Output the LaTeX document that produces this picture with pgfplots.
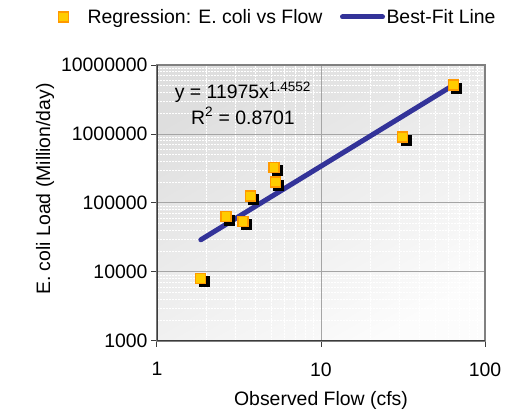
\documentclass[border=0pt]{standalone}
\usepackage{fontspec}
\setmainfont{Liberation Sans}
\usepackage{pgfplots}
\pgfplotsset{compat=1.18}
\definecolor{fitblue}{RGB}{51,51,153}
\definecolor{markfill}{RGB}{255,204,0}
\definecolor{markedge}{RGB}{255,153,0}
\definecolor{majgrid}{RGB}{165,165,165}
\definecolor{bgdark}{RGB}{222,222,222}
\definecolor{bglight}{RGB}{252,252,252}
\definecolor{frame}{RGB}{128,128,128}
\definecolor{darkframe}{RGB}{60,60,60}

\begin{document}
\begin{tikzpicture}
  % page extent, in pixels of the reference (1px = 1bp)
  \path (-157bp,-72bp) rectangle (362bp,341bp);
  \begin{loglogaxis}[
      at={(0,0)}, anchor=south west,
      scale only axis,
      width=328bp, height=276bp,
      xmin=1, xmax=100,
      ymin=1000, ymax=10000000,
      font=\fontsize{19.5}{23}\selectfont,
      /pgf/number format/assume math mode=true,
      xtick={1,10,100}, xticklabels={1,10,100},
      ytick={1000,10000,100000,1000000,10000000},
      yticklabels={1000,10000,100000,1000000,10000000},
      xticklabel style={yshift=-12bp},
      xtick pos=left, ytick pos=left,
      tick align=outside,
      major tick length=6bp, minor tick length=0pt,
      major tick style={draw=darkframe, line width=1bp},
      grid=both,
      major grid style={draw=majgrid, line width=1bp},
      minor grid style={draw=white, line width=1bp, dash pattern=on 2bp off 1bp},
      axis line style={frame, line width=1.5bp},
      axis background/.style={shade, top color=bgdark, bottom color=bglight, shading angle=30},
      xlabel={Observed Flow (cfs)},
      ylabel={E. coli Load (Million/day)},
      every axis x label/.style={at={(axis description cs:0.5,-0.214)}, anchor=center},
      ylabel style={xshift=14bp},
      legend columns=2,
      legend style={at={(axis description cs:0.366,1.174)}, anchor=center,
        draw=none, fill=none, column sep=0pt,
        nodes={inner sep=0pt, anchor=west}},
    ]
    % black shadows behind the markers
    \addplot[only marks, mark=square*, mark size=5bp, forget plot,
      mark options={fill=black, draw=black, xshift=3bp, yshift=-3bp}]
      coordinates {
        (1.85,8100) (2.63,63300) (3.34,54300) (3.71,126000)
        (5.17,329000) (5.26,201000) (31.5,905000) (64.1,5130000)
      };
    \addplot[only marks, mark=square*, mark size=5bp,
      mark options={fill=markfill, draw=markedge, line width=1.3bp},
      legend image code/.code={
        \path[draw=none] (-5bp,0bp) -- (24bp,0bp);
        \draw[only marks, mark=square*, mark size=5bp,
          mark options={fill=markfill, draw=markedge, line width=1.3bp}]
          plot coordinates {(0bp,0bp)};
      }]
      coordinates {
        (1.85,8100) (2.63,63300) (3.34,54300) (3.71,126000)
        (5.17,329000) (5.26,201000) (31.5,905000) (64.1,5130000)
      };
    \addlegendentry{Regression: E. coli vs Flow}
    % y = 11975 x^1.4552, straight on log-log axes
    \addplot[fitblue, line width=5bp, line cap=round,
      legend image code/.code={
        \path[draw=none] (-20bp,0bp) -- (44bp,0bp);
        \draw[fitblue, line width=5bp] (0bp,0bp) -- (40bp,0bp);
      }]
      coordinates {(1.85,29300) (64.1,5100000)};
    \addlegendentry{Best-Fit Line}
    \draw[darkframe, line width=1.5bp]
      (rel axis cs:0,1) -- (rel axis cs:0,0) -- (rel axis cs:1,0);
    \node[align=center] at (axis description cs:0.262,0.862)
      {y = 11975x\textsuperscript{1.4552}\\[3bp]R\textsuperscript{2} = 0.8701};
  \end{loglogaxis}
\end{tikzpicture}
\end{document}
